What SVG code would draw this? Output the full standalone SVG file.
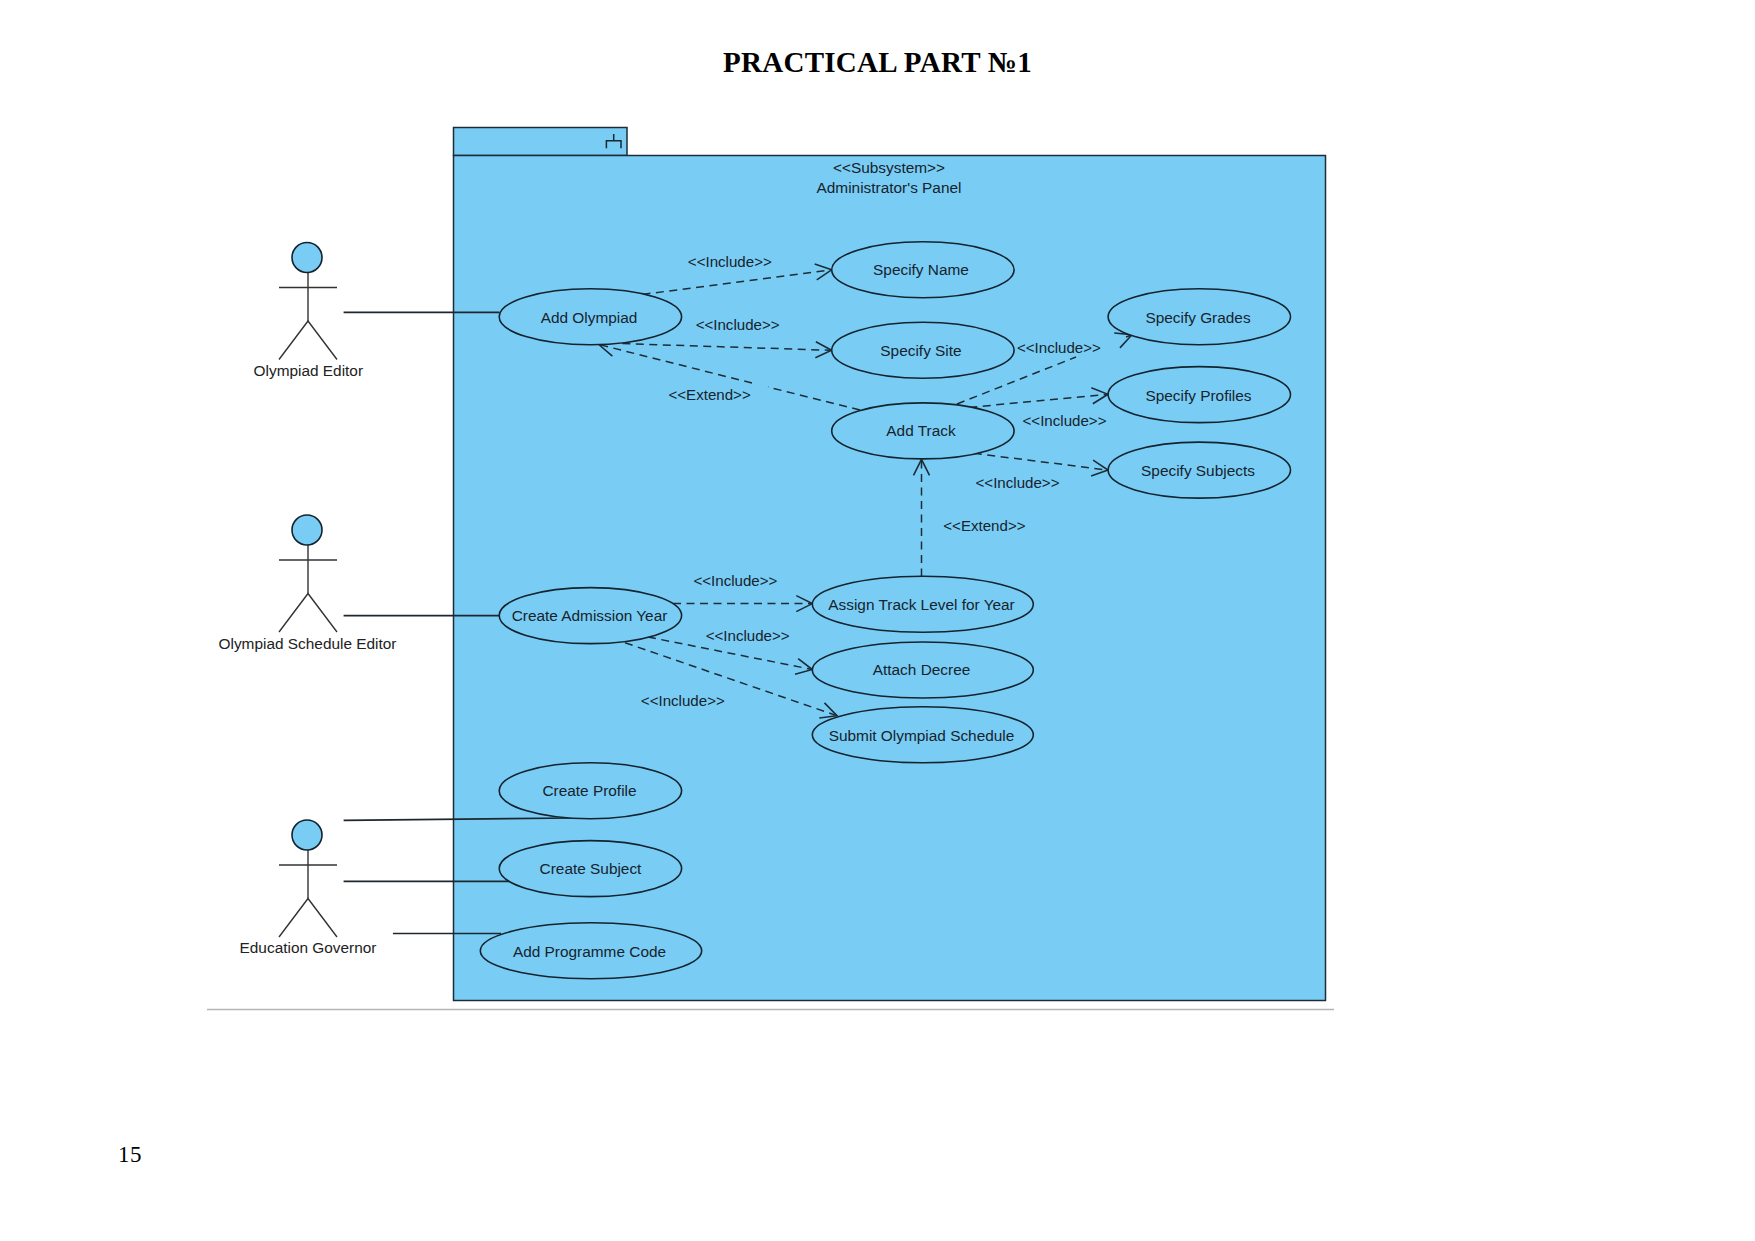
<svg xmlns="http://www.w3.org/2000/svg" width="1755" height="1241" viewBox="0 0 1755 1241">
<style>
.pk{fill:#79cdf5;stroke:#1c2c38;stroke-width:1.5}
.uc{fill:#79cdf5;stroke:#14232e;stroke-width:1.6}
.ln{fill:none;stroke:#1c2730;stroke-width:1.5}
.as{fill:none;stroke:#1c2730;stroke-width:1.7}
.dep{fill:none;stroke:#1c2c38;stroke-width:1.5;stroke-dasharray:8 5.5;marker-end:url(#open)}
.ac{fill:none;stroke:#333;stroke-width:1.4}
.hd{fill:#79cdf5;stroke:#14232e;stroke-width:1.6}
text{font-family:"Liberation Sans",Arial,sans-serif;font-size:15.4px;fill:#16232d;text-anchor:middle}
#labels text{font-size:15.1px}
.o{fill:#222}
.t{font-family:"Liberation Serif","Times New Roman",serif;font-weight:bold;font-size:29px;letter-spacing:.28px;fill:#000}
.p{font-family:"Liberation Serif","Times New Roman",serif;font-size:23px;letter-spacing:.5px;fill:#000;text-anchor:start}
</style>
<defs>
<marker id="open" markerUnits="userSpaceOnUse" markerWidth="24" markerHeight="24" refX="18" refY="12" orient="auto">
<path d="M2,4 L18,12 L2,20" fill="none" stroke="#1c2c38" stroke-width="1.6" stroke-dasharray="none"/>
</marker>
<g id="stick">
<line class="ac" x1="0" y1="14.5" x2="0" y2="63.5"/>
<line class="ac" x1="-29" y1="30" x2="29" y2="30"/>
<path class="ac" d="M-29,102 L0,63.5 L29,102"/>
<circle class="hd" cx="-1" cy="0" r="15"/>
</g>
</defs>
<rect width="1755" height="1241" fill="#fff"/>
<text class="t" x="877.5" y="72.3">PRACTICAL PART №1</text>
<text class="p" x="118" y="1162">15</text>
<line x1="207" y1="1009.5" x2="1334" y2="1009.5" stroke="#b4b4b4" stroke-width="1.5"/>
<g id="package">
<rect class="pk" x="453.5" y="127.5" width="173.5" height="28"/>
<rect class="pk" x="453.5" y="155.5" width="872" height="845"/>
<path class="ln" d="M613.7,134 V140.7 M606.4,148.3 V140.7 H621 V148.3"/>
<text x="889" y="173">&lt;&lt;Subsystem&gt;&gt;</text>
<text x="889" y="193">Administrator's Panel</text>
</g>
<g id="connectors">
<line class="as" x1="343.6" y1="312.3" x2="499.5" y2="312.3"/>
<line class="as" x1="343.6" y1="615.6" x2="499.5" y2="615.6"/>
<line class="as" x1="343.6" y1="820.4" x2="572" y2="818"/>
<line class="as" x1="343.6" y1="881.4" x2="510.4" y2="881.4"/>
<line class="as" x1="392.9" y1="933.5" x2="501" y2="933.5"/>
<path class="dep" d="M642.5,294.4 L831.6,269.8"/>
<path class="dep" d="M622.3,343.6 L831.6,350.3"/>
<path class="dep" d="M860,410 L768,387 M752,383 L598.8,344.5"/>
<path class="dep" d="M957,404 L1076,357 M1126,337 L1132,334.7"/>
<path class="dep" d="M969.3,407.4 L1108,394.3"/>
<path class="dep" d="M973.8,453.3 L1108,470.1"/>
<path class="dep" d="M921.5,576.4 L921.5,459.4"/>
<path class="dep" d="M673,603.6 L812.3,603.6"/>
<path class="dep" d="M648,637 L812.3,669.5"/>
<path class="dep" d="M625,642.7 L837,715.7"/>
</g>
<g id="labels">
<text x="729.8" y="267">&lt;&lt;Include&gt;&gt;</text>
<text x="737.6" y="330">&lt;&lt;Include&gt;&gt;</text>
<text x="709.6" y="400">&lt;&lt;Extend&gt;&gt;</text>
<text x="1058.9" y="353">&lt;&lt;Include&gt;&gt;</text>
<text x="1064.5" y="426">&lt;&lt;Include&gt;&gt;</text>
<text x="1017.5" y="487.5">&lt;&lt;Include&gt;&gt;</text>
<text x="984.4" y="530.5">&lt;&lt;Extend&gt;&gt;</text>
<text x="735.4" y="586">&lt;&lt;Include&gt;&gt;</text>
<text x="747.7" y="641">&lt;&lt;Include&gt;&gt;</text>
<text x="682.8" y="706">&lt;&lt;Include&gt;&gt;</text>
</g>
<g id="uc-add-olympiad"><ellipse class="uc" cx="590.4" cy="316.8" rx="91.2" ry="28"/><text x="589" y="323">Add Olympiad</text></g>
<g id="uc-specify-name"><ellipse class="uc" cx="922.9" cy="269.8" rx="91.2" ry="28"/><text x="921" y="275">Specify Name</text></g>
<g id="uc-specify-site"><ellipse class="uc" cx="922.9" cy="350.3" rx="91.2" ry="28"/><text x="921" y="356">Specify Site</text></g>
<g id="uc-add-track"><ellipse class="uc" cx="922.9" cy="430.9" rx="91.2" ry="28"/><text x="921" y="436">Add Track</text></g>
<g id="uc-specify-grades"><ellipse class="uc" cx="1199.3" cy="316.8" rx="91.2" ry="28"/><text x="1198" y="323">Specify Grades</text></g>
<g id="uc-specify-profiles"><ellipse class="uc" cx="1199.3" cy="394.6" rx="91.2" ry="28"/><text x="1198.5" y="400.5">Specify Profiles</text></g>
<g id="uc-specify-subjects"><ellipse class="uc" cx="1199.3" cy="470.1" rx="91.2" ry="28"/><text x="1198" y="475.5">Specify Subjects</text></g>
<g id="uc-assign-track"><ellipse class="uc" cx="922.8" cy="604.2" rx="110.5" ry="28"/><text x="921.5" y="609.5">Assign Track Level for Year</text></g>
<g id="uc-attach-decree"><ellipse class="uc" cx="922.8" cy="670" rx="110.5" ry="28"/><text x="921.5" y="675">Attach Decree</text></g>
<g id="uc-submit-schedule"><ellipse class="uc" cx="922.8" cy="734.8" rx="110.5" ry="28"/><text x="921.5" y="741">Submit Olympiad Schedule</text></g>
<g id="uc-create-admission"><ellipse class="uc" cx="590.4" cy="615.6" rx="91.2" ry="28"/><text x="589.5" y="620.5">Create Admission Year</text></g>
<g id="uc-create-profile"><ellipse class="uc" cx="590.4" cy="790.8" rx="91.2" ry="28"/><text x="589.5" y="796">Create Profile</text></g>
<g id="uc-create-subject"><ellipse class="uc" cx="590.4" cy="868.6" rx="91.2" ry="28"/><text x="590.5" y="874">Create Subject</text></g>
<g id="uc-add-programme"><ellipse class="uc" cx="591" cy="950.8" rx="110.7" ry="28"/><text x="589.5" y="957">Add Programme Code</text></g>
<g id="actor-olympiad-editor"><use href="#stick" x="308" y="257.5"/><text class="o" x="308.3" y="376">Olympiad Editor</text></g>
<g id="actor-schedule-editor"><use href="#stick" x="308" y="530"/><text class="o" x="307.5" y="648.5">Olympiad Schedule Editor</text></g>
<g id="actor-education-governor"><use href="#stick" x="308" y="835"/><text class="o" x="308" y="953">Education Governor</text></g>
</svg>
